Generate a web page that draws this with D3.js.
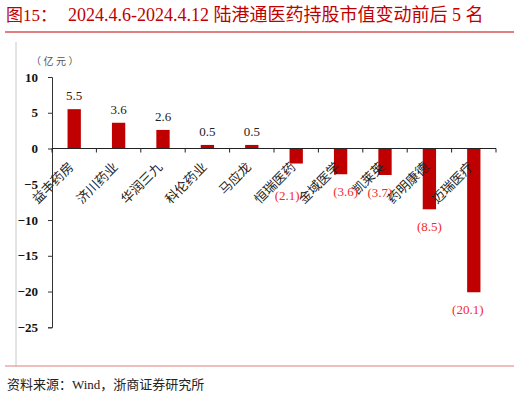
<!DOCTYPE html>
<html>
<head>
<meta charset="utf-8">
<script src="https://cdn.jsdelivr.net/npm/d3@7"></script>
<style>
  body { margin: 0; background: #fff; }
  svg { display: block; }
</style>
</head>
<body>
<svg id="chart" width="520" height="397"></svg>
<script>
const categories = ["益丰药房", "济川药业", "华润三九", "科伦药业", "马应龙", "恒瑞医药", "金域医学", "凯莱英", "药明康德", "迈瑞医疗"];
const values = [5.5, 3.6, 2.6, 0.5, 0.5, -2.1, -3.6, -3.7, -8.5, -20.1];
const yTicks = [10, 5, 0, -5, -10, -15, -20, -25];

const serif = "'Liberation Serif', 'Times New Roman', 'Noto Sans CJK SC', serif";
const red = "#c00000";

const svg = d3.select("#chart");
const margin = { left: 52, right: 24, top: 77, bottom: 70 };
const width = 520, height = 397;

const x = d3.scaleBand()
  .domain(categories)
  .range([margin.left, width - margin.right])
  .paddingInner(0.7)
  .paddingOuter(0.35);

const y = d3.scaleLinear()
  .domain([-25, 10])
  .range([327.3, 77]);

// title
svg.append("text")
  .attr("x", 6).attr("y", 21)
  .attr("fill", red)
  .style("font-family", serif).style("font-size", "17px")
  .text("图15：");
svg.append("text")
  .attr("x", 68).attr("y", 21)
  .attr("fill", red)
  .style("font-family", serif).style("font-size", "18px")
  .text("2024.4.6-2024.4.12 陆港通医药持股市值变动前后 5 名");
svg.append("line")
  .attr("x1", 5).attr("x2", 514).attr("y1", 32).attr("y2", 32)
  .attr("stroke", red).attr("stroke-width", 1.2);

// frame
svg.append("line")
  .attr("x1", 16).attr("x2", 16).attr("y1", 42).attr("y2", 366)
  .attr("stroke", "#c8c8c8");
svg.append("line")
  .attr("x1", 5).attr("x2", 514).attr("y1", 366).attr("y2", 366)
  .attr("stroke", "#e08080").attr("stroke-width", 1.2);

// unit
svg.append("text")
  .attr("x", 56).attr("y", 65)
  .attr("text-anchor", "middle")
  .attr("fill", "#555")
  .style("font-family", serif).style("font-size", "10px")
  .style("letter-spacing", "2.5px")
  .text("（亿元）");

// y axis
const yAxis = svg.append("g")
  .attr("transform", `translate(${margin.left},0)`)
  .call(d3.axisLeft(y).tickValues(yTicks).tickSize(4).tickPadding(10));
yAxis.select(".domain").attr("stroke", "#333");
yAxis.selectAll(".tick line").attr("stroke", "#333");
yAxis.selectAll("text")
  .style("font-family", serif).style("font-size", "13px")
  .style("font-weight", "bold").attr("fill", "#111");

// bars
svg.selectAll("rect.bar")
  .data(values)
  .join("rect")
  .attr("class", "bar")
  .attr("x", (d, i) => x(categories[i]))
  .attr("width", x.bandwidth())
  .attr("y", d => y(Math.max(0, d)))
  .attr("height", d => Math.abs(y(d) - y(0)))
  .attr("fill", red);

// x axis with ticks at band boundaries
const edges = d3.range(categories.length + 1).map(i => margin.left + i * ((width - margin.right - margin.left) / categories.length));
const xg = svg.append("g");
xg.append("line")
  .attr("x1", margin.left).attr("x2", width - margin.right)
  .attr("y1", y(0)).attr("y2", y(0))
  .attr("stroke", "#222").attr("stroke-width", 1.2);
xg.selectAll("line.tk")
  .data(edges)
  .join("line")
  .attr("class", "tk")
  .attr("x1", d => d).attr("x2", d => d)
  .attr("y1", y(0)).attr("y2", y(0) + 4)
  .attr("stroke", "#222");

// category labels
svg.selectAll("text.cat")
  .data(categories)
  .join("text")
  .attr("class", "cat")
  .attr("text-anchor", "end")
  .attr("transform", d => `translate(${x(d) + x.bandwidth() / 2 - 3},${y(0) + 16}) rotate(-45)`)
  .attr("dy", "0.35em")
  .attr("fill", "#222")
  .style("font-family", serif).style("font-size", "13px")
  .text(d => d);

// value labels (manual nudges as in the original layout)
const labelNudge = { "恒瑞医药": [-9, 14], "金域医学": [5, 0], "凯莱英": [-5, 0], "迈瑞医疗": [-6, 0] };
svg.selectAll("text.val")
  .data(values)
  .join("text")
  .attr("class", "val")
  .attr("text-anchor", "middle")
  .attr("x", (d, i) => x(categories[i]) + x.bandwidth() / 2 + (labelNudge[categories[i]] || [0, 0])[0])
  .attr("y", (d, i) => d >= 0 ? y(d) - 9 : y(d) + 22 + (labelNudge[categories[i]] || [0, 0])[1])
  .attr("fill", d => d >= 0 ? "#222" : "#f42a2a")
  .style("font-family", serif).style("font-size", "13px")
  .text(d => d >= 0 ? d.toFixed(1) : `(${Math.abs(d).toFixed(1)})`);

// source
svg.append("text")
  .attr("x", 7).attr("y", 389)
  .attr("fill", "#222")
  .style("font-family", serif).style("font-size", "13px")
  .text("资料来源：Wind，浙商证券研究所");
</script>
</body>
</html>
